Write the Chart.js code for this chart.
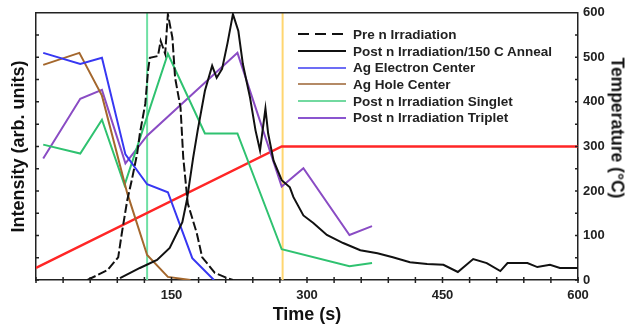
<!DOCTYPE html>
<html>
<head>
<meta charset="utf-8">
<script src="https://cdn.jsdelivr.net/npm/chart.js@4.4.1/dist/chart.umd.min.js"></script>
<style>
  html, body { margin: 0; padding: 0; background: #fff; }
  #wrap { position: relative; width: 632px; height: 327px; }
  #legend {
    position: absolute; left: 298px; top: 26px;
    font: bold 13.5px "Liberation Sans", Arial, sans-serif; color: #222;
  }
  .row { display: flex; align-items: center; height: 16.7px; white-space: nowrap; }
  .row svg { margin-right: 7px; }
  #tempTitle {
    position: absolute; left: 617px; top: 128px; white-space: nowrap;
    transform: translate(-50%, -50%) rotate(90deg);
    font: bold 17.5px "Liberation Sans", Arial, sans-serif; color: #111;
  }
</style>
</head>
<body>
<div id="wrap">
  <canvas id="chart" width="632" height="327"></canvas>
  <div id="legend"></div>
  <div id="tempTitle">Temperature (°C)</div>
</div>
<script>
// TL glow curves (intensity, left axis)
const preTime = [57, 79, 91, 95, 101, 106, 112, 115, 121, 124, 126, 135, 138, 143, 146, 151, 154, 160, 163, 168, 178, 184, 198, 212, 218];
const preIntensity = [0, 22, 51, 105, 179, 224, 284, 329, 396, 470, 499, 503, 537, 508, 597, 544, 454, 387, 275, 172, 105, 51, 16, 4, 0];

const annealTime = [93, 115, 134, 148, 162, 167, 174, 179, 187, 195, 200, 206, 212, 218, 224, 229, 237, 243, 248, 254, 257, 263, 272, 281, 285, 296, 307, 322, 340, 359, 378, 395, 414, 433, 451, 467, 484, 499, 514, 522, 544, 555, 569, 580, 600];
const annealIntensity = [4, 27, 45, 72, 130, 179, 275, 336, 425, 481, 454, 474, 532, 597, 559, 485, 409, 336, 291, 385, 329, 268, 224, 208, 186, 145, 128, 101, 83, 67, 60, 51, 40, 36, 34, 18, 47, 38, 20, 38, 38, 29, 34, 27, 27];

// ESR centres
const electronTime = [8, 49, 73, 99, 123, 146, 173, 197];
const electronIntensity = [510, 485, 499, 282, 215, 197, 49, 0];

const holeTime = [8, 48, 73, 101, 123, 146, 171];
const holeIntensity = [483, 510, 414, 195, 56, 7, 0];

const singletTime = [8, 49, 73, 98, 146, 187, 223, 272, 347, 372];
const singletIntensity = [304, 284, 360, 213, 508, 329, 329, 69, 31, 38];

const tripletTime = [8, 49, 73, 99, 123, 223, 272, 296, 347, 372];
const tripletIntensity = [273, 407, 427, 262, 324, 510, 210, 251, 101, 121];

// heating profile (right axis)
const tempTime = [0, 272, 600];
const tempValue = [27, 300, 300];

// vertical marker lines
const markerTimes = [123, 273];
const markerColors = ["#6fe0a4", "#ffd670"];

const xTickLabels = [150, 300, 450, 600];
const tempTickLabels = [0, 100, 200, 300, 400, 500, 600];

const FONT = "'Liberation Sans', Arial, sans-serif";
const AXIS = "#222";

function pts(xs, ys) {
  return xs.map((x, i) => ({ x: x, y: ys[i] }));
}

const series = [
  { label: "Pre n Irradiation", t: preTime, v: preIntensity, color: "#111", dash: [9, 3], legendColor: "#111" },
  { label: "Post n Irradiation/150 C Anneal", t: annealTime, v: annealIntensity, color: "#111", legendColor: "#111" },
  { label: "Ag Electron Center", t: electronTime, v: electronIntensity, color: "#3737f2", legendColor: "#6d6df5" },
  { label: "Ag Hole Center", t: holeTime, v: holeIntensity, color: "#a4672d", legendColor: "#b48a66" },
  { label: "Post n Irradiation Singlet", t: singletTime, v: singletIntensity, color: "#2fc270", legendColor: "#72d9a0" },
  { label: "Post n Irradiation Triplet", t: tripletTime, v: tripletIntensity, color: "#8a4cc4", legendColor: "#8a55cf" },
];

const datasets = series.map((s) => ({
  label: s.label,
  data: pts(s.t, s.v),
  borderColor: s.color,
  borderWidth: 2,
  borderDash: s.dash || [],
  pointRadius: 0,
  tension: 0,
  yAxisID: "y",
}));

datasets.push({
  label: "Temperature",
  data: pts(tempTime, tempValue),
  borderColor: "#ff2626",
  borderWidth: 2.5,
  pointRadius: 0,
  yAxisID: "y1",
});

markerTimes.forEach((t, i) => {
  datasets.push({
    label: "marker" + i,
    data: [{ x: t, y: 0 }, { x: t, y: 600 }],
    borderColor: markerColors[i],
    borderWidth: 2,
    pointRadius: 0,
    yAxisID: "y",
    order: 10,
  });
});

// top edge of the frame plus small inward tick marks
const framePlugin = {
  id: "frame",
  afterDatasetsDraw(chart) {
    const { ctx, chartArea: a, scales } = chart;
    ctx.save();
    ctx.strokeStyle = AXIS;
    ctx.lineWidth = 1.5;
    ctx.beginPath();
    ctx.moveTo(a.left, a.top);
    ctx.lineTo(a.right, a.top);
    scales.x.ticks.forEach((t) => {
      const px = scales.x.getPixelForValue(t.value);
      ctx.moveTo(px, a.bottom - 3);
      ctx.lineTo(px, a.bottom + 3);
    });
    scales.y.ticks.forEach((t) => {
      const py = scales.y.getPixelForValue(t.value);
      ctx.moveTo(a.left, py);
      ctx.lineTo(a.left + 3, py);
    });
    scales.y1.ticks.forEach((t) => {
      const py = scales.y1.getPixelForValue(t.value);
      ctx.moveTo(a.right, py);
      ctx.lineTo(a.right - 3, py);
    });
    ctx.stroke();
    ctx.restore();
  },
};

const gridOpts = { display: false, drawTicks: false };
const tickFont = { family: FONT, size: 13, weight: "bold" };

new Chart(document.getElementById("chart"), {
  type: "line",
  data: { datasets: datasets },
  options: {
    responsive: false,
    animation: false,
    layout: { padding: { top: 12 } },
    plugins: { legend: { display: false }, tooltip: { enabled: false } },
    scales: {
      x: {
        type: "linear", min: 0, max: 600,
        border: { color: AXIS, width: 1.5 },
        grid: gridOpts,
        ticks: {
          stepSize: 30, autoSkip: false, maxRotation: 0, padding: 8, color: AXIS, font: tickFont,
          callback: (v) => (xTickLabels.includes(v) ? String(v) : ""),
        },
        title: { display: true, text: "Time (s)", color: "#111", font: { family: FONT, size: 18, weight: "bold" }, padding: { top: 0, bottom: 1 } },
        afterFit: (s) => { s.height = 47; },
      },
      y: {
        type: "linear", position: "left", min: 0, max: 600,
        border: { color: AXIS, width: 1.5 },
        grid: gridOpts,
        ticks: { stepSize: 50, autoSkip: false, callback: () => "" },
        title: { display: true, text: "Intensity (arb. units)", color: "#111", font: { family: FONT, size: 18, weight: "bold" }, padding: { top: 8, bottom: 0 } },
        afterFit: (s) => { s.width = 36; },
      },
      y1: {
        type: "linear", position: "right", min: 0, max: 600,
        border: { color: AXIS, width: 1.5 },
        grid: gridOpts,
        ticks: {
          stepSize: 50, autoSkip: false, padding: 5, color: AXIS, font: tickFont,
          callback: (v) => (tempTickLabels.includes(v) ? String(v) : ""),
        },
        afterFit: (s) => { s.width = 54; },
      },
    },
  },
  plugins: [framePlugin],
});

// legend drawn inside the plot, like the original figure
const legend = document.getElementById("legend");
series.forEach((s) => {
  const row = document.createElement("div");
  row.className = "row";
  const dash = s.dash ? 'stroke-dasharray="11,6"' : "";
  row.innerHTML =
    '<svg width="48" height="4"><line x1="0" y1="2" x2="48" y2="2" stroke="' + s.legendColor +
    '" stroke-width="2" ' + dash + "/></svg><span>" + s.label + "</span>";
  legend.appendChild(row);
});
</script>
</body>
</html>
